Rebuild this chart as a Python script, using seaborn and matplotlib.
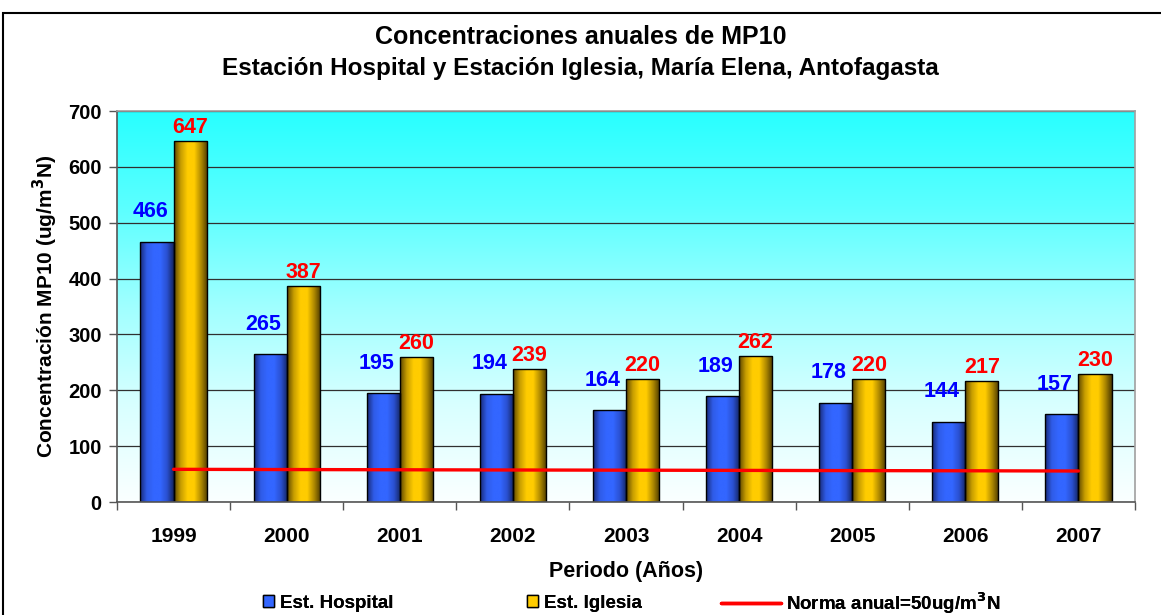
import numpy as np
import pandas as pd
import matplotlib
matplotlib.use("Agg")
import matplotlib.pyplot as plt
import seaborn as sns
from matplotlib.colors import LinearSegmentedColormap
from matplotlib.lines import Line2D
from matplotlib.patches import Patch, Rectangle

years = ["1999", "2000", "2001", "2002", "2003", "2004", "2005", "2006", "2007"]
hospital = [466, 265, 195, 194, 164, 189, 178, 144, 157]
iglesia = [647, 387, 260, 239, 220, 262, 220, 217, 230]
norma = [58.5, 58.1, 57.7, 57.3, 57.0, 56.6, 56.2, 55.9, 55.5]

df = pd.DataFrame({
    "Año": years * 2,
    "Valor": hospital + iglesia,
    "Estación": ["Est. Hospital"] * 9 + ["Est. Iglesia"] * 9,
})

sns.set_style("white")
plt.rcParams["font.family"] = ["Liberation Sans", "DejaVu Sans"]
plt.rcParams["font.weight"] = "bold"
for k in ["text.color", "axes.labelcolor", "xtick.labelcolor", "ytick.labelcolor"]:
    plt.rcParams[k] = "black"

W, H = 1161, 615
fig = plt.figure(figsize=(W / 100, H / 100), dpi=100)
ax = fig.add_axes([117 / W, 1 - 502 / H, (1135 - 117) / W, (502 - 111) / H])

# background gradient, white at bottom -> cyan at top
bg = LinearSegmentedColormap.from_list("bg", ["#fbffff", "#d8ffff", "#a0ffff", "#5cffff", "#28ffff"])
ax.imshow(np.linspace(0, 1, 256).reshape(-1, 1), cmap=bg, origin="lower",
          extent=[0, 1, 0, 1], transform=ax.transAxes, aspect="auto", zorder=0)

sns.barplot(data=df, x="Año", y="Valor", hue="Estación",
            palette=["#3366ff", "#ffcc00"], width=0.585, gap=0,
            edgecolor="black", linewidth=1, ax=ax, legend=False, zorder=2)

# cylinder-like shading on bars
blue_cm = LinearSegmentedColormap.from_list("b", ["#182a78", "#2f5ce8", "#3366ff", "#3366ff", "#2a50d0", "#14245e"])
gold_cm = LinearSegmentedColormap.from_list("g", ["#5c4600", "#c89e00", "#ffcc00", "#ffcc00", "#b08a00", "#4c3a00"])
grad = np.linspace(0, 1, 128).reshape(1, -1)
n = len(years)
for i, p in enumerate(ax.patches[:2 * n]):
    x0, w, h = p.get_x(), p.get_width(), p.get_height()
    cm = blue_cm if i < n else gold_cm
    im = ax.imshow(grad, cmap=cm, extent=[x0, x0 + w, 0, h], aspect="auto", zorder=2.1)
    im.set_clip_path(p)
    p.set_facecolor("none")
    p.set_zorder(2.2)

# data labels
for i, p in enumerate(ax.patches[:2 * n]):
    v = p.get_height()
    cx = p.get_x() + p.get_width() / 2
    if i < n:
        ax.annotate(f"{v:.0f}", (cx, v), xytext=(-5, 21.5), textcoords="offset points",
                    ha="center", va="center", color="#0000ff", fontsize=15.5, fontweight="bold")
    else:
        ax.annotate(f"{v:.0f}", (cx, v), xytext=(0, 9.5), textcoords="offset points",
                    ha="center", va="center", color="#ff0000", fontsize=15.5, fontweight="bold")

ax.plot(range(n), norma, color="#ff0000", lw=2.4, zorder=3)

ax.set_xlim(-0.5, n - 0.5)
ax.set_ylim(0, 700)
ax.set_yticks(range(0, 701, 100))
ax.yaxis.grid(True, color="#303030", lw=0.9)
ax.set_axisbelow(True)

ax.set_xticks(np.arange(-0.5, n, 1))
ax.set_xticklabels([])
ax.set_xticks(range(n), minor=True)
ax.set_xticklabels(years, minor=True, fontsize=15, fontweight="bold")
ax.tick_params(axis="x", which="major", length=6, width=1, color="#555555", direction="out", bottom=True)
ax.tick_params(axis="x", which="minor", length=0, pad=18, labelcolor="black")
ax.tick_params(axis="y", length=6, width=1, color="#555555", direction="out", left=True,
               labelsize=14.5, pad=5, labelcolor="black")
for lab in ax.get_yticklabels():
    lab.set_fontweight("bold")

for s in ["left", "bottom"]:
    ax.spines[s].set_color("#555555")
    ax.spines[s].set_linewidth(1.2)
for s in ["top", "right"]:
    ax.spines[s].set_color("#a0a0a0")
    ax.spines[s].set_linewidth(1.2)

ax.set_xlabel("")
ax.set_ylabel("Concentración MP10 (ug/m$^\\mathbf{3}$N)", fontsize=15, fontweight="bold",
              labelpad=6, color="black")
fig.text(626 / W, 1 - 572 / H, "Periodo (Años)", ha="center", va="center",
         fontsize=15.5, fontweight="bold", color="black")

fig.text(0.5, 1 - 37 / H, "Concentraciones anuales de MP10", ha="center", va="center",
         fontsize=18, fontweight="bold", color="black")
fig.text(0.5, 1 - 68 / H, "Estación Hospital y Estación Iglesia, María Elena, Antofagasta",
         ha="center", va="center", fontsize=17.5, fontweight="bold", color="black")

# legend: three entries placed like the original
entries = [
    (263, Patch(facecolor="#3366ff", edgecolor="black", label="Est. Hospital"), 0.6),
    (527, Patch(facecolor="#ffcc00", edgecolor="black", label="Est. Iglesia"), 0.6),
    (721, Line2D([0], [0], color="#ff0000", lw=2.5, label="Norma anual=50ug/m$^\\mathbf{3}$N"), 3.2),
]
for x, h, hl in entries:
    leg = fig.legend(handles=[h], loc="center left", bbox_to_anchor=(x / W, 1 - 603 / H),
                     frameon=False, prop={"weight": "bold", "size": 13.5},
                     handlelength=hl, handleheight=0.64, handletextpad=0.28,
                     borderpad=0, borderaxespad=0, labelcolor="black")
    fig.add_artist(leg)

fig.add_artist(Rectangle((3 / W, -0.05), 1.2, 1 - 13 / H + 0.05, transform=fig.transFigure,
                         fill=False, edgecolor="black", lw=1.5))

fig.savefig("out.png", dpi=100)
